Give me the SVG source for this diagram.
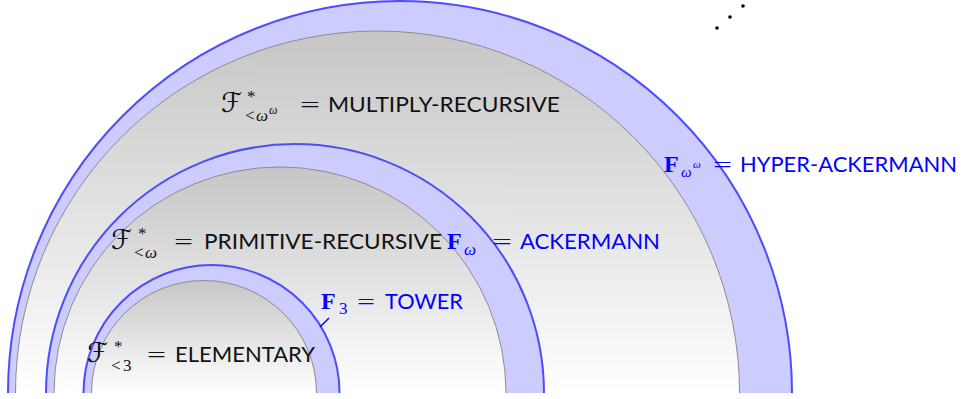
<svg xmlns="http://www.w3.org/2000/svg" width="963" height="399" viewBox="0 0 963 399">
<defs>
<linearGradient id="shade" x1="0" y1="0" x2="0" y2="1">
<stop offset="0" stop-color="#c6c6c6"/>
<stop offset="1" stop-color="#ffffff"/>
</linearGradient>
<style>
.band{fill:#ccccff;stroke:#4d4dff;stroke-width:2}
.core{fill:url(#shade);stroke:#8c8c8c;stroke-width:1}
.cap{font-family:Lato,"Open Sans","Liberation Sans",sans-serif;font-size:21px}
.m{font-family:"Liberation Serif",serif}
.eq{font-family:"Liberation Serif",serif;font-size:22px}
.scr{font-family:"DejaVu Serif","DejaVu Sans",serif;font-style:italic;font-size:27px}
.it{font-style:italic}
.bf{font-weight:bold;font-size:24px}
.blk{fill:#111}
.blu{fill:#0000ff}
</style>
</defs>
<rect width="963" height="399" fill="#ffffff"/>
<g id="outer">
<path class="band" d="M8 393 A392 392 0 0 1 792 393"/>
<path class="core" d="M15.5 393 A362 362 0 0 1 739.5 393"/>
</g>
<g id="middle">
<path class="band" d="M46 393 A249 249 0 0 1 544 393"/>
<path class="core" d="M54 393 A226 226 0 0 1 506 393"/>
</g>
<g id="inner">
<path class="band" d="M83.5 393 A128 128 0 0 1 339.5 393"/>
<path class="core" d="M91.5 393 A112.5 112.5 0 0 1 316.5 393"/>
</g>
<g id="connectors">
<line x1="320" y1="327" x2="329" y2="318" stroke="#0000ff" stroke-width="1.5"/>
</g>
<g id="label-multiply" class="blk">
<text class="m"><tspan class="scr" x="221" y="112">ℱ</tspan><tspan x="247" y="101.5" font-size="17">*</tspan><tspan x="245" y="121" font-size="17">&lt;</tspan><tspan class="it" x="256" y="121" font-size="17">ω</tspan><tspan class="it" x="269" y="114" font-size="12">ω</tspan></text>
<text class="eq" x="300" y="112" textLength="20" lengthAdjust="spacingAndGlyphs">=</text>
<text class="cap" x="328" y="112" textLength="232" lengthAdjust="spacingAndGlyphs">MULTIPLY-RECURSIVE</text>
</g>
<g id="label-primitive" class="blk">
<text class="m"><tspan class="scr" x="111" y="249">ℱ</tspan><tspan x="138" y="238.5" font-size="17">*</tspan><tspan x="134" y="258" font-size="17">&lt;</tspan><tspan class="it" x="145" y="258" font-size="17">ω</tspan></text>
<text class="eq" x="174" y="249" textLength="19" lengthAdjust="spacingAndGlyphs">=</text>
<text class="cap" x="204" y="249" textLength="238" lengthAdjust="spacingAndGlyphs">PRIMITIVE-RECURSIVE</text>
</g>
<g id="label-elementary" class="blk">
<text class="m"><tspan class="scr" x="87" y="362">ℱ</tspan><tspan x="114" y="351.5" font-size="17">*</tspan><tspan x="111" y="371" font-size="17">&lt;</tspan><tspan x="123" y="371" font-size="17">3</tspan></text>
<text class="eq" x="147" y="362" textLength="19" lengthAdjust="spacingAndGlyphs">=</text>
<text class="cap" x="175" y="362" textLength="140" lengthAdjust="spacingAndGlyphs">ELEMENTARY</text>
</g>
<g id="label-tower" class="blu">
<text class="m"><tspan class="bf" x="321" y="309">F</tspan><tspan x="339" y="314" font-size="17">3</tspan></text>
<text class="eq" x="357" y="309" textLength="18" lengthAdjust="spacingAndGlyphs">=</text>
<text class="cap" x="385" y="309" textLength="78" lengthAdjust="spacingAndGlyphs">TOWER</text>
</g>
<g id="label-ackermann" class="blu">
<text class="m"><tspan class="bf" x="447" y="249">F</tspan><tspan class="it" x="464" y="255" font-size="17">ω</tspan></text>
<text class="eq" x="492" y="249" textLength="20" lengthAdjust="spacingAndGlyphs">=</text>
<text class="cap" x="520" y="249" textLength="140" lengthAdjust="spacingAndGlyphs">ACKERMANN</text>
</g>
<g id="label-hyper" class="blu">
<text class="m"><tspan class="bf" x="664" y="172">F</tspan><tspan class="it" x="681" y="177" font-size="15">ω</tspan><tspan class="it" x="693" y="168" font-size="11">ω</tspan></text>
<text class="eq" x="713" y="172" textLength="19" lengthAdjust="spacingAndGlyphs">=</text>
<text class="cap" x="740" y="172" textLength="217" lengthAdjust="spacingAndGlyphs">HYPER-ACKERMANN</text>
</g>
<g id="dots" fill="#000">
<circle cx="717" cy="28" r="1.8"/>
<circle cx="730" cy="17" r="1.8"/>
<circle cx="743" cy="6" r="1.8"/>
</g>
</svg>
